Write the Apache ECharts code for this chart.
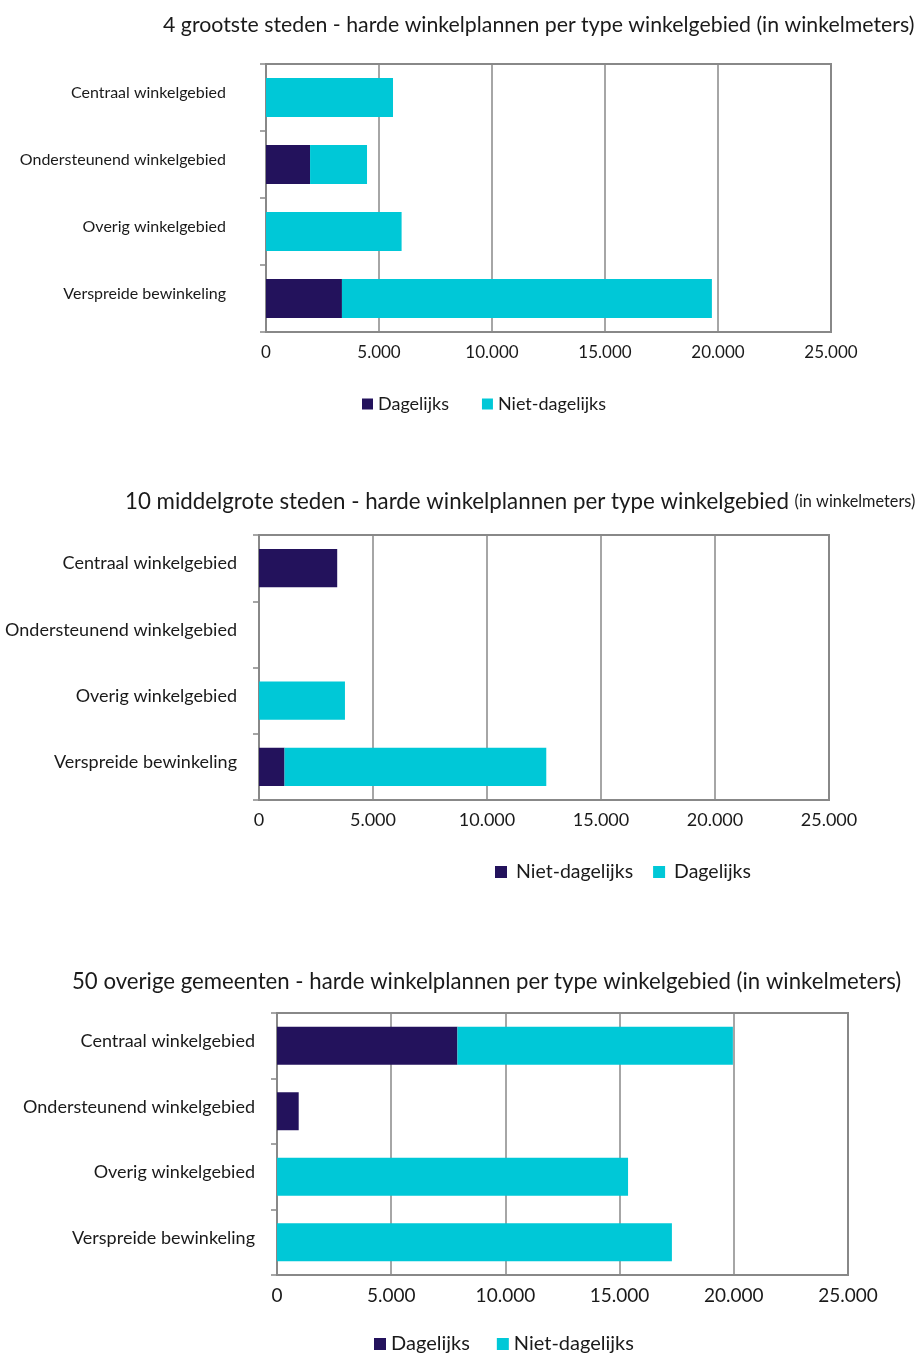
<!DOCTYPE html>
<html>
<head>
<meta charset="utf-8">
<script src="https://cdn.jsdelivr.net/npm/echarts@6/dist/echarts.min.js"></script>
<style>
  html, body { margin: 0; padding: 0; background: #ffffff; }
  .c { position: absolute; left: 0; top: 0; width: 918px; height: 1353px; }
</style>
</head>
<body>
<div id="c1" class="c"></div>
<div id="c2" class="c"></div>
<div id="c3" class="c"></div>
<script>
// ---- data ----
const categories = ['Centraal winkelgebied', 'Ondersteunend winkelgebied', 'Overig winkelgebied', 'Verspreide bewinkeling'];
const xTicks = [0, 5000, 10000, 15000, 20000, 25000];

const title1 = '4 grootste steden - harde winkelplannen per type winkelgebied (in winkelmeters)';
const c1Dagelijks = [0, 1950, 0, 3360];
const c1NietDagelijks = [5620, 2520, 6000, 16370];

const title2Main = '10 middelgrote steden - harde winkelplannen per type winkelgebied ';
const title2Sub = '(in winkelmeters)';
const c2NietDagelijks = [3430, 0, 0, 1120];
const c2Dagelijks = [0, 0, 3770, 11480];

const title3 = '50 overige gemeenten - harde winkelplannen per type winkelgebied (in winkelmeters)';
const c3Dagelijks = [7900, 950, 0, 0];
const c3NietDagelijks = [12060, 0, 15370, 17290];

// ---- style ----
const FONT = 'Lato';
const DARK = '#23125c';
const CYAN = '#00c8d7';
const GRAY = '#888888';
const TXT = '#1a1a1a';

function fmt(v) { return String(v).replace(/\B(?=(\d{3})+(?!\d))/g, '.'); }

function makeOption(cfg) {
  return {
    animation: false,
    textStyle: { fontFamily: FONT, color: TXT },
    title: cfg.title,
    legend: {
      left: cfg.legendLeft, top: cfg.legendTop,
      icon: 'rect', itemWidth: cfg.iconSize, itemHeight: cfg.iconSize,
      itemGap: cfg.legendGap,
      textStyle: { fontFamily: FONT, fontSize: cfg.legendFont, color: TXT, padding: cfg.legendPad },
      data: cfg.seriesNames
    },
    grid: {
      left: cfg.grid[0], top: cfg.grid[1], width: cfg.grid[2], height: cfg.grid[3],
      show: true, borderColor: GRAY, borderWidth: 2, containLabel: false
    },
    xAxis: {
      type: 'value', min: xTicks[0], max: xTicks[xTicks.length - 1], interval: xTicks[1] - xTicks[0],
      axisLine: { show: true, lineStyle: { color: GRAY, width: 2 } },
      axisTick: { show: false },
      splitLine: { show: true, lineStyle: { color: GRAY, width: 1.5 } },
      axisLabel: { formatter: fmt, fontFamily: FONT, fontSize: cfg.tickFont, color: TXT, margin: cfg.xLabelMargin }
    },
    yAxis: {
      type: 'category', inverse: true, data: categories,
      axisLine: { show: true, lineStyle: { color: GRAY, width: 2 } },
      axisTick: { show: true, length: 6, lineStyle: { color: GRAY, width: 1.5 } },
      axisLabel: {
        fontFamily: FONT, fontSize: cfg.catFont, color: TXT, margin: cfg.yLabelMargin,
        formatter: function (v) { return '{t|' + v + '}'; },
        rich: { t: { fontFamily: FONT, fontSize: cfg.catFont, color: TXT, padding: [0, 0, 9, 0] } }
      }
    },
    series: [
      { name: cfg.seriesNames[0], type: 'bar', stack: 't', barWidth: '58%', data: cfg.data[0], itemStyle: { color: DARK } },
      { name: cfg.seriesNames[1], type: 'bar', stack: 't', barWidth: '58%', data: cfg.data[1], itemStyle: { color: CYAN } }
    ]
  };
}

const opt1 = makeOption({
  title: { text: title1, left: 158, top: 10, textStyle: { fontFamily: FONT, fontSize: 21.3, fontWeight: 'normal', color: TXT } },
  legendLeft: 357, legendTop: 390, iconSize: 11, legendGap: 33, legendFont: 18, legendPad: [0, 0, 0, 0],
  seriesNames: ['Dagelijks', 'Niet-dagelijks'],
  grid: [266, 64, 565, 268],
  tickFont: 17, catFont: 16, xLabelMargin: 12, yLabelMargin: 40,
  data: [c1Dagelijks, c1NietDagelijks]
});

const opt2 = makeOption({
  title: {
    text: '{a|' + title2Main + '}{b|' + title2Sub + '}', left: 120, top: 486,
    textStyle: { rich: {
      a: { fontFamily: FONT, fontSize: 22.3, fontWeight: 'normal', color: TXT },
      b: { fontFamily: FONT, fontSize: 16.3, fontWeight: 'normal', color: TXT }
    } }
  },
  legendLeft: 490, legendTop: 857, iconSize: 12, legendGap: 20, legendFont: 19.5, legendPad: [0, 0, 0, 4],
  seriesNames: ['Niet-dagelijks', 'Dagelijks'],
  grid: [259, 535, 570, 265],
  tickFont: 18, catFont: 18, xLabelMargin: 11, yLabelMargin: 22,
  data: [c2NietDagelijks, c2Dagelijks]
});

const opt3 = makeOption({
  title: { text: title3, left: 67, top: 966, textStyle: { fontFamily: FONT, fontSize: 22.2, fontWeight: 'normal', color: TXT } },
  legendLeft: 369, legendTop: 1329, iconSize: 12, legendGap: 27, legendFont: 20, legendPad: [0, 0, 0, 0],
  seriesNames: ['Dagelijks', 'Niet-dagelijks'],
  grid: [277, 1013, 571, 262],
  tickFont: 19, catFont: 18, xLabelMargin: 11, yLabelMargin: 22,
  data: [c3Dagelijks, c3NietDagelijks]
});

echarts.init(document.getElementById('c1'), null, { renderer: 'canvas' }).setOption(opt1);
echarts.init(document.getElementById('c2'), null, { renderer: 'canvas' }).setOption(opt2);
echarts.init(document.getElementById('c3'), null, { renderer: 'canvas' }).setOption(opt3);
</script>
</body>
</html>
